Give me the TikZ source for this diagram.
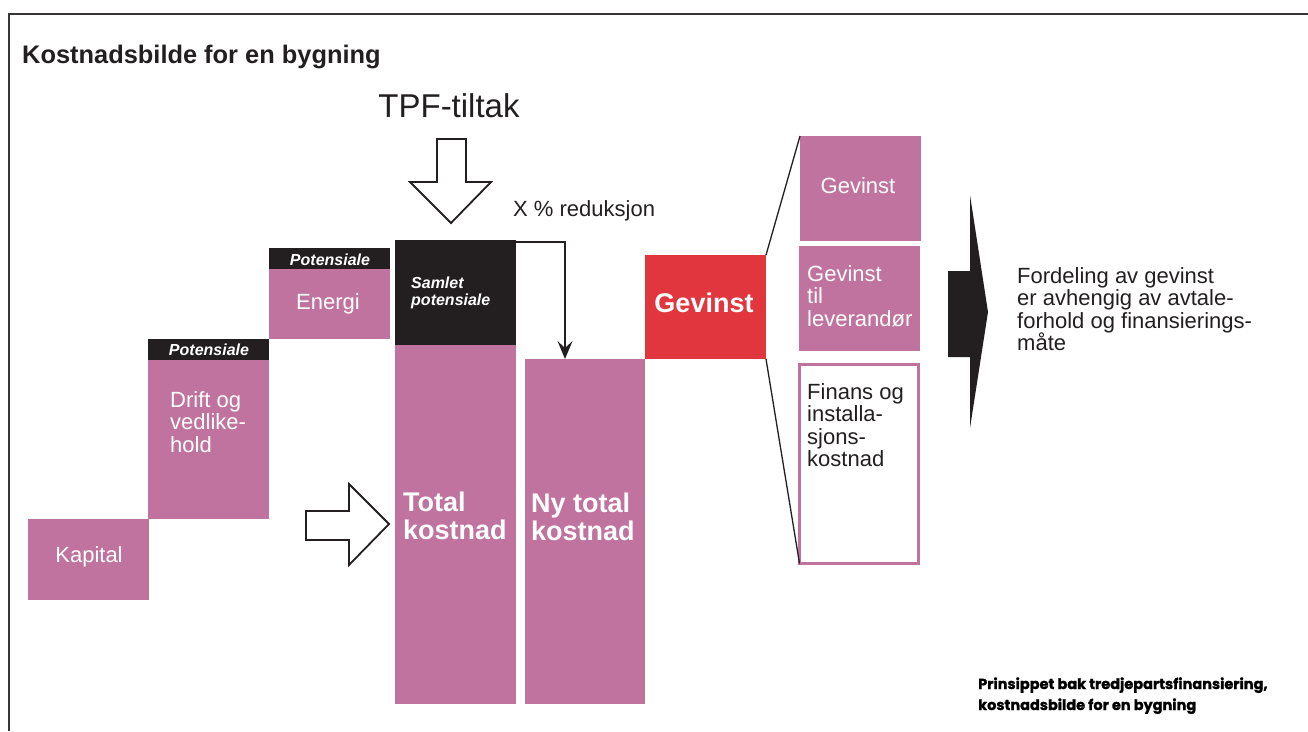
\documentclass[tikz,border=0pt]{standalone}
\usepackage{fontspec}
\setmainfont{Liberation Sans}
\newfontfamily\footfont[BoldFeatures={FakeBold=1.2}]{Poppins}
\usetikzlibrary{arrows.meta}

\definecolor{kpink}{RGB}{192,115,158}
\definecolor{kred}{RGB}{225,54,62}
\definecolor{kblack}{RGB}{35,31,32}

\tikzset{
  bar/.style={fill=kpink, inner sep=0pt, outer sep=0pt, anchor=north west},
  head/.style={fill=kblack, inner sep=0pt, outer sep=0pt, anchor=north west},
  txt/.style={font=\fontsize{22}{22.5}\selectfont, text=white, inner sep=0pt, align=left},
  bigtxt/.style={font=\fontsize{27}{28}\selectfont\bfseries, text=white, inner sep=0pt, align=left},
  pottxt/.style={font=\fontsize{16}{17}\selectfont\bfseries\itshape, text=white, inner sep=0pt, align=left},
  hollow/.style={draw=kblack, line width=1.8pt, fill=white, line join=miter},
  foot/.style={font=\footfont\fontsize{14.5}{21}\selectfont\bfseries, text=black, inner sep=0pt, anchor=base west},
}

\begin{document}
\begin{tikzpicture}[x=1pt, y=-1pt]
  \useasboundingbox (0,0) rectangle (1308,731);
  % frame
  \draw[line width=2pt, color=kblack!90] (9,731) -- (9,13.5) -- (1308,13.5);
  \node[font=\fontsize{25.4}{26}\selectfont\bfseries, text=kblack, inner sep=0pt, anchor=base west] (title) at (22,63) {Kostnadsbilde for en bygning};

  % cost steps
  \node[bar, minimum width=121, minimum height=81] (kapital) at (28,519) {};
  \node[bar, minimum width=121, minimum height=159] (drift) at (148,360) {};
  \node[head, minimum width=121, minimum height=21] (drifthead) at (148,339) {};
  \node[bar, minimum width=121, minimum height=70] (energi) at (269,269) {};
  \node[head, minimum width=121, minimum height=21] (energihead) at (269,248) {};

  \node[txt, anchor=base] (kapitaltxt) at (89,562) {Kapital};
  \node[txt, anchor=north west] (drifttxt) at (170,391) {Drift og\\vedlike-\\hold};
  \node[txt, anchor=base] (energitxt) at (328,309) {Energi};
  \node[pottxt, anchor=base] (pot1) at (209,355) {Potensiale};
  \node[pottxt, anchor=base] (pot2) at (330,265) {Potensiale};

  % hollow arrow into total
  \draw[hollow] (306,511) -- (349,511) -- (349,484) -- (389,524) -- (349,565) -- (349,540) -- (306,540) -- cycle;

  % total and new total
  \node[head, minimum width=121, minimum height=105] (samlet) at (395,240) {};
  \node[bar, minimum width=121, minimum height=359] (total) at (395,345) {};
  \node[bar, minimum width=120, minimum height=345] (nytotal) at (525,359) {};
  \node[pottxt, anchor=north west] (samlettxt) at (411,277) {Samlet\\potensiale};
  \node[bigtxt, anchor=north west] (totaltxt) at (403,492) {Total\\kostnad};
  \node[bigtxt, anchor=north west] (nytotaltxt) at (531,493) {Ny total\\kostnad};

  % TPF
  \node[font=\fontsize{33}{34}\selectfont, text=kblack, inner sep=0pt, anchor=base] (tpf) at (449,117) {TPF-tiltak};
  \draw[hollow] (437,139) -- (466,139) -- (466,182) -- (491,182) -- (451,223) -- (410,182) -- (437,182) -- cycle;
  \node[txt, text=kblack, anchor=base west] (reduksjon) at (513,216) {X \% reduksjon};
  \coordinate (xtip) at (565,359);
  \draw[line width=2pt, color=kblack, -{Stealth[length=18pt, width=15pt, inset=7pt]}] (samlet.north east) ++(0,1.5) -| (xtip);

  % gevinst
  \node[fill=kred, inner sep=0pt, outer sep=0pt, anchor=north west, minimum width=121, minimum height=104] (gevinst) at (645,255) {};
  \node[bigtxt, anchor=base] (gevinsttxt) at (704,312) {Gevinst};
  \node[bar, minimum width=121, minimum height=105] (gevinst2) at (800,136) {};
  \node[bar, minimum width=121, minimum height=105] (leverandor) at (799,246) {};
  \node[draw=kpink, line width=3pt, fill=white, inner sep=0pt, outer sep=0pt, anchor=north west, minimum width=119, minimum height=199] (finans) at (799.5,364.5) {};
  \draw[line width=1.3pt, color=kblack] (gevinst.north east) -- (gevinst2.north west);
  \draw[line width=1.3pt, color=kblack] (gevinst.south east) -- (finans.south west);
  \node[txt, anchor=base] (gevinst2txt) at (858,193) {Gevinst};
  \node[txt, anchor=north west] (leverandortxt) at (807,265) {Gevinst\\til\\leverand\o r};
  \node[txt, text=kblack, anchor=north west] (finanstxt) at (807,383) {Finans og\\installa-\\sjons-\\kostnad};

  % black arrow and note
  \fill[kblack] (948,271) -- (970,271) -- (970,195) -- (988,312) -- (970,428) -- (970,357) -- (948,357) -- cycle;
  \node[txt, text=kblack, anchor=north west] (fordeling) at (1017,267) {Fordeling av gevinst\\er avhengig av avtale-\\forhold og finansierings-\\m\aa te};

  % caption
  \node[foot] (caption) at (978,689) {Prinsippet bak tredjepartsfinansiering,};
  \node[foot] (caption2) at (978,710) {kostnadsbilde for en bygning};
\end{tikzpicture}
\end{document}
